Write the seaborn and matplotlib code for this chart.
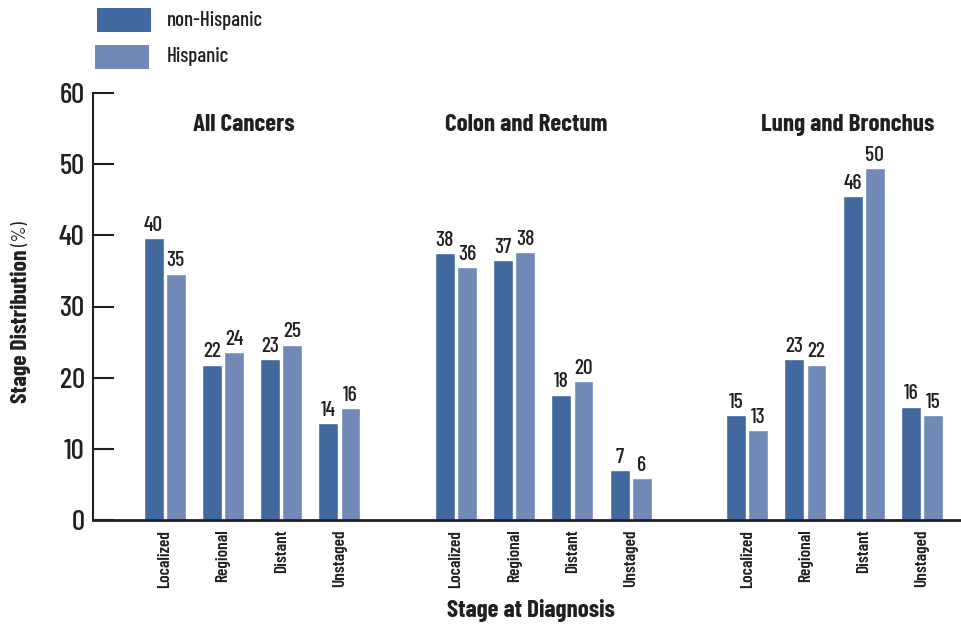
import matplotlib
matplotlib.use("Agg")
import matplotlib.pyplot as plt
from matplotlib.patches import Rectangle
import seaborn as sns
import pandas as pd

# ---- data ----
cancers = ["All Cancers", "Colon and Rectum", "Lung and Bronchus"]
stages = ["Localized", "Regional", "Distant", "Unstaged"]
groups = ["non-Hispanic", "Hispanic"]
nonhisp = [39.6, 21.8, 22.6, 13.6, 37.5, 36.5, 17.6, 7.0, 14.7, 22.6, 45.5, 15.9]
hisp = [34.6, 23.6, 24.6, 15.7, 35.5, 37.6, 19.5, 5.9, 12.6, 21.8, 49.4, 14.7]
nonhisp_labels = [40, 22, 23, 14, 38, 37, 18, 7, 15, 23, 46, 16]
hisp_labels = [35, 24, 25, 16, 36, 38, 20, 6, 13, 22, 50, 15]
yticks = [0, 10, 20, 30, 40, 50, 60]

colors = {"non-Hispanic": "#41689f", "Hispanic": "#7089b7"}
ink = "#231f20"

sns.set_style("white")
plt.rcParams["font.family"] = ["Barlow Condensed", "IBM Plex Sans Condensed", "DejaVu Sans"]

rows = []
order = []
for ci, c in enumerate(cancers):
    for si, s in enumerate(stages):
        key = f"{c}|{s}"
        order.append(key)
        k = ci * len(stages) + si
        rows.append({"key": key, "group": groups[0], "value": nonhisp[k], "label": nonhisp_labels[k]})
        rows.append({"key": key, "group": groups[1], "value": hisp[k], "label": hisp_labels[k]})
    if ci < len(cancers) - 1:
        order.append(f"__gap{ci}")
df = pd.DataFrame(rows)

W, H = 961, 627
fig = plt.figure(figsize=(W / 100, H / 100), dpi=100)
ax = fig.add_axes([93 / W, 1 - 520 / H, 868 / W, 427 / H])

sns.barplot(data=df, x="key", y="value", hue="group", order=order, hue_order=groups,
            palette=colors, width=0.76, gap=0.1, saturation=1, errorbar=None,
            legend=False, ax=ax)

# bar labels
pos_of = {k: i for i, k in enumerate(order)}
lab_lookup = {(r["key"], r["group"]): r["label"] for _, r in df.iterrows()}
key_at = {i: k for k, i in pos_of.items()}
for g, cont in zip(groups, ax.containers):
    labs = []
    for b in cont:
        xc = b.get_x() + b.get_width() / 2
        labs.append(str(lab_lookup.get((key_at[int(round(xc))], g), "")))
    ax.bar_label(cont, labels=labs, padding=2.5, fontsize=15.5, color=ink, fontweight="medium")

ax.set_xlim(-1.23, 13.67)
ax.set_ylim(0, 60)
ax.set_yticks(yticks)
ax.set_yticklabels([str(t) for t in yticks])
tick_pos = [pos_of[k] for k in order if not k.startswith("__gap")]
ax.set_xticks(tick_pos)
ax.set_xticklabels([k.split("|")[1] for k in order if not k.startswith("__gap")])

ax.tick_params(axis="y", direction="in", length=15, width=1.5, color=ink,
               labelsize=21, pad=6, labelcolor=ink, left=True)
ax.tick_params(axis="x", length=0, labelsize=12.5, labelrotation=90, pad=7, labelcolor=ink)
for lab in ax.get_yticklabels():
    lab.set_fontweight("medium")
for lab in ax.get_xticklabels():
    lab.set_fontweight("semibold")

for s in ["top", "right"]:
    ax.spines[s].set_visible(False)
ax.spines["left"].set_linewidth(1.5)
ax.spines["left"].set_color(ink)
ax.spines["bottom"].set_linewidth(2)
ax.spines["bottom"].set_color(ink)

ax.set_xlabel("")
ax.set_ylabel("")
fig.text(531 / W, 1 - 611 / H, "Stage at Diagnosis", ha="center", va="center",
         fontsize=18, fontweight="bold", color=ink)

# group titles
title_x = [1.36, 6.21, 11.73]
for c, tx in zip(cancers, title_x):
    ax.text(tx, 55.5, c, ha="center", va="center", fontsize=18, fontweight="bold", color=ink)

# y label (bold part + regular "(%)")
t1 = fig.text(21 / W, 1 - 403 / H, "Stage Distribution", rotation=90, ha="center",
              va="bottom", fontsize=17, fontweight="bold", color=ink)
fig.canvas.draw()
bb = t1.get_window_extent()
fig.text(21 / W, (bb.y1 + 4) / fig.bbox.height, "(%)", rotation=90, ha="center",
         va="bottom", fontsize=14.5, color=ink)

# legend (drawn manually in figure pixels)
legend_boxes = [(97, 8), (95, 45)]
for g, (lx, ly) in zip(groups, legend_boxes):
    fig.add_artist(Rectangle((lx / W, 1 - (ly + 24) / H), 54 / W, 24 / H,
                             transform=fig.transFigure, facecolor=colors[g], edgecolor="none"))
    fig.text(167 / W, 1 - (ly + 12) / H, g, ha="left", va="center", fontsize=15,
             fontweight="medium", color=ink)

fig.savefig("out.png", dpi=100)
